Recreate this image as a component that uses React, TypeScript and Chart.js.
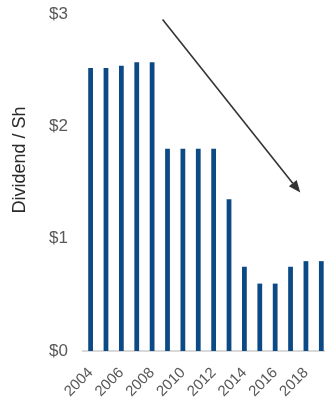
import React, { useEffect, useRef } from "react";
import { Chart, registerables } from "chart.js";

Chart.register(...registerables);

const years = ["2004","2005","2006","2007","2008","2009","2010","2011","2012","2013","2014","2015","2016","2017","2018","2019"];
const dividends = [2.52, 2.52, 2.54, 2.57, 2.57, 1.80, 1.80, 1.80, 1.80, 1.35, 0.75, 0.60, 0.60, 0.75, 0.80, 0.80];
const yTicks = [0, 1, 2, 3];
const yTitle = "Dividend / Sh";
const yTitleCenterValue = 1.7;
// arrow annotation endpoints in data units: [category index, value]
const arrowStart = [4.68, 2.95];
const arrowEnd = [13.63, 1.41];

const arrowPlugin = {
  id: "trendArrow",
  afterDatasetsDraw(chart: any) {
    const { ctx, scales } = chart;
    const x = scales.x, y = scales.y;
    const x1 = x.getPixelForValue(arrowStart[0]);
    const y1 = y.getPixelForValue(arrowStart[1]);
    const x2 = x.getPixelForValue(arrowEnd[0]);
    const y2 = y.getPixelForValue(arrowEnd[1]);
    const ang = Math.atan2(y2 - y1, x2 - x1);
    const headLen = 12, headW = 5;
    const bx = x2 - headLen * Math.cos(ang);
    const by = y2 - headLen * Math.sin(ang);
    ctx.save();
    ctx.strokeStyle = "#333333";
    ctx.fillStyle = "#333333";
    ctx.lineWidth = 1.6;
    ctx.beginPath();
    ctx.moveTo(x1, y1);
    ctx.lineTo(bx, by);
    ctx.stroke();
    ctx.beginPath();
    ctx.moveTo(x2, y2);
    ctx.lineTo(bx + headW * Math.sin(ang), by - headW * Math.cos(ang));
    ctx.lineTo(bx - headW * Math.sin(ang), by + headW * Math.cos(ang));
    ctx.closePath();
    ctx.fill();
    ctx.restore();
  },
};

const yTitlePlugin = {
  id: "yTitle",
  afterDraw(chart: any) {
    const { ctx, scales } = chart;
    const yc = scales.y.getPixelForValue(yTitleCenterValue);
    ctx.save();
    ctx.translate(25, yc);
    ctx.rotate(-Math.PI / 2);
    ctx.fillStyle = "#2b2b2b";
    ctx.font = "18px 'Liberation Sans'";
    ctx.textAlign = "center";
    ctx.textBaseline = "alphabetic";
    ctx.fillText(yTitle, 0, 0);
    ctx.restore();
  },
};

export default function App() {
  const ref = useRef<HTMLCanvasElement>(null);
  useEffect(() => {
    if (!ref.current) return;
    const chart = new Chart(ref.current, {
      type: "bar",
      data: {
        labels: years,
        datasets: [
          {
            data: dividends,
            backgroundColor: "#0b4a84",
            barPercentage: 0.31,
            categoryPercentage: 1,
          },
        ],
      },
      options: {
        animation: false,
        responsive: false,
        layout: { padding: { top: 14, left: 34, right: 0, bottom: 0 } },
        plugins: { legend: { display: false }, tooltip: { enabled: false } },
        scales: {
          x: {
            grid: { display: false, drawTicks: false },
            border: { display: true, color: "#d9d9d9", width: 2 },
            afterFit: (s: any) => {
              s.paddingLeft = 0;
              s.paddingRight = 0;
              s.height = 50;
            },
            ticks: {
              autoSkip: false,
              maxRotation: 45,
              minRotation: 45,
              padding: 13,
              color: "#595959",
              font: { family: "Liberation Sans", size: 15 },
              callback: (_v: any, i: number) => (i % 2 === 0 ? years[i] : ""),
            },
          },
          y: {
            min: 0,
            max: 3,
            afterBuildTicks: (s: any) => {
              s.ticks = yTicks.map((v) => ({ value: v }));
            },
            afterFit: (s: any) => {
              s.paddingTop = 0;
              s.paddingBottom = 0;
            },
            grid: { display: false, drawTicks: false },
            border: { display: false },
            ticks: {
              padding: 15,
              color: "#595959",
              font: { family: "Liberation Sans", size: 17 },
              callback: (v: any) => "$" + v,
            },
          },
        },
      },
      plugins: [arrowPlugin, yTitlePlugin],
    });
    return () => chart.destroy();
  }, []);
  return (
    <div style={{ position: "absolute", left: 0, top: 0, width: 325, height: 401, overflow: "hidden", background: "#fff" }}>
      <canvas ref={ref} width={329} height={401} style={{ display: "block" }} />
    </div>
  );
}
